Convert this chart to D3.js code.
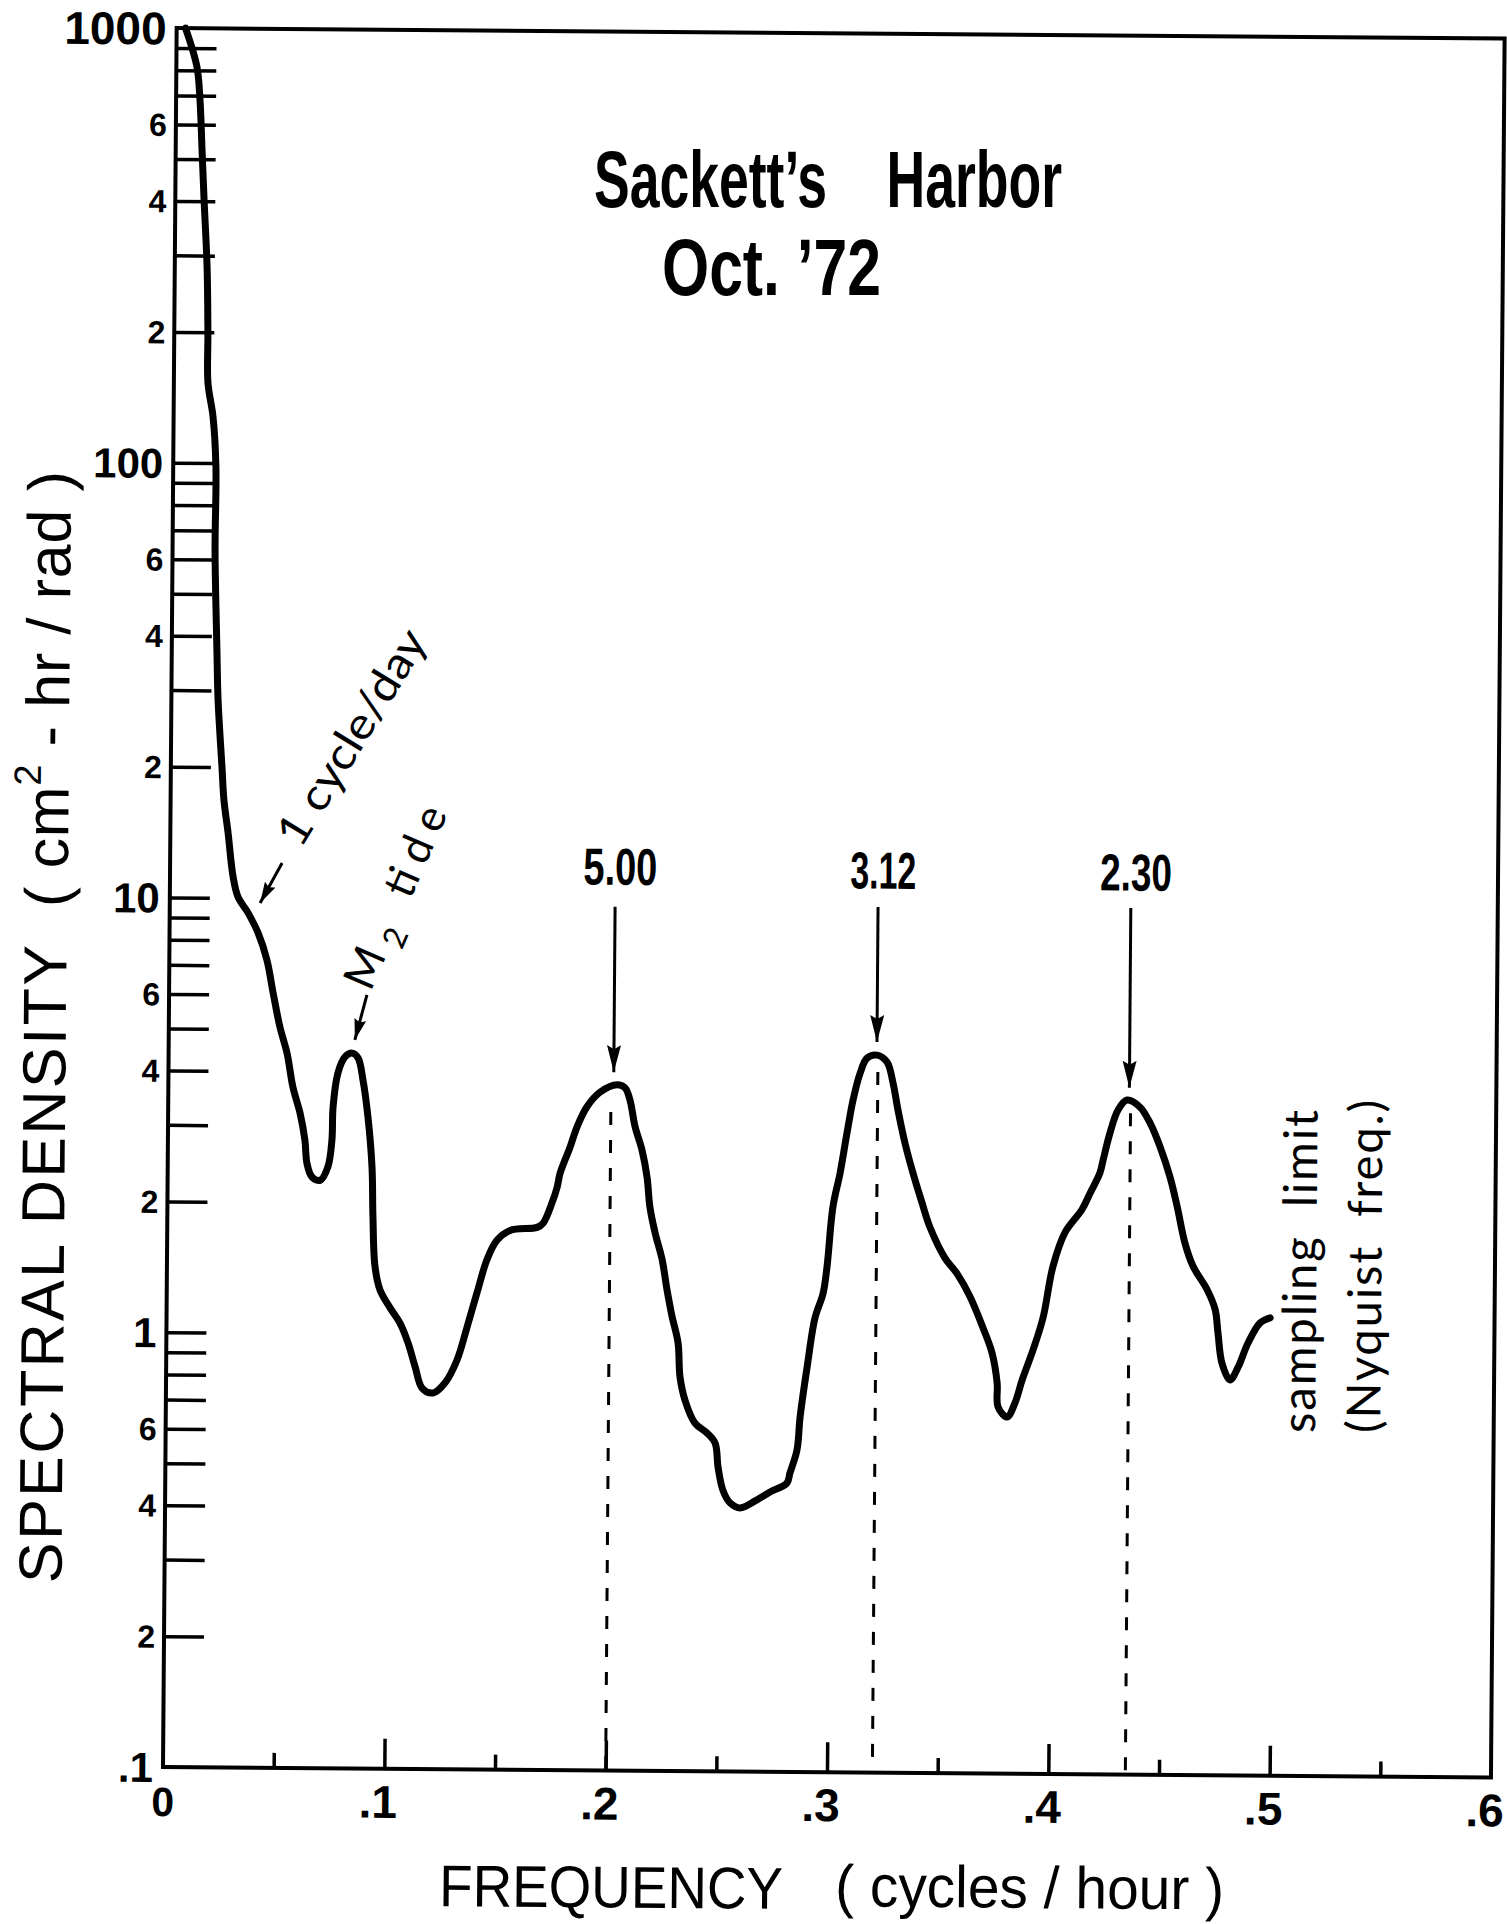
<!DOCTYPE html>
<html>
<head>
<meta charset="utf-8">
<script src="https://cdn.jsdelivr.net/npm/d3@7"></script>
<style>
html,body{margin:0;padding:0;background:#fff;}
svg{display:block;background:#fff;}
text{white-space:pre;}
</style>
</head>
<body>
<svg id="chart" width="1507" height="1924"></svg>
<script>
// ---------------- data ----------------
const freq = [0.004,0.0093,0.0108,0.0119,0.0130,0.0146,0.0152,0.0154,0.0178,0.0193,
0.0192,0.0204,0.0211,0.0231,0.0241,0.0261,0.0285,0.0308,0.0354,0.0400,
0.0441,0.0470,0.0502,0.0535,0.0563,0.0596,0.0619,0.0629,0.0652,0.0689,
0.0724,0.0741,0.0745,0.0766,0.0797,0.0829,0.0856,0.0879,0.0903,0.0923,
0.0929,0.0940,0.0964,0.1009,0.1055,0.1092,0.1125,0.1157,0.1207,0.1260,
0.1314,0.1358,0.1402,0.1446,0.1490,0.1549,0.1671,0.1698,0.1738,0.1760,
0.1773,0.1817,0.1848,0.1892,0.1950,0.2027,0.2063,0.2086,0.2110,0.2142,
0.2166,0.2180,0.2204,0.2237,0.2260,0.2284,0.2312,0.2322,0.2345,0.2391,
0.2446,0.2483,0.2497,0.2520,0.2552,0.2598,0.2674,0.2733,0.2809,0.2822,
0.2853,0.2866,0.2896,0.2930,0.2965,0.2982,0.3007,0.3038,0.3068,0.3094,
0.3125,0.3156,0.3201,0.3246,0.3274,0.3297,0.3330,0.3367,0.3409,0.3446,
0.3515,0.3570,0.3629,0.3689,0.3731,0.3755,0.3760,0.3801,0.3836,0.3868,
0.3916,0.3960,0.4003,0.4056,0.4132,0.4168,0.4212,0.4226,0.4256,0.4292,
0.4332,0.4391,0.4436,0.4483,0.4529,0.4562,0.4599,0.4636,0.4700,0.4737,
0.4751,0.4770,0.4807,0.4843,0.4887,0.4941,0.4986];

const density = [1000,815,684,525,403,282,199,153,128,98,
63,37.2,28.5,20.0,16.8,14.1,11.2,10.06,9.25,8.32,
7.21,6.06,5.06,4.41,3.68,3.21,2.78,2.46,2.29,2.25,
2.42,2.79,3.32,3.98,4.33,4.42,4.31,3.84,3.15,2.42,
1.86,1.43,1.26,1.15,1.06,0.955,0.841,0.752,0.733,0.773,
0.874,1.04,1.25,1.49,1.65,1.74,1.77,1.81,2.02,2.19,
2.36,2.71,3.02,3.36,3.63,3.78,3.72,3.49,3.03,2.68,
2.32,1.98,1.73,1.50,1.28,1.11,0.965,0.806,0.714,0.632,
0.600,0.569,0.501,0.443,0.415,0.404,0.422,0.440,0.462,0.487,
0.550,0.656,0.855,1.11,1.26,1.45,2.00,2.39,2.96,3.52,
4.06,4.40,4.47,4.31,3.86,3.35,2.81,2.40,2.05,1.80,
1.53,1.41,1.25,1.06,0.927,0.791,0.697,0.661,0.712,0.805,
0.944,1.12,1.47,1.76,1.99,2.17,2.42,2.59,2.99,3.38,
3.56,3.43,3.16,2.78,2.37,2.03,1.67,1.48,1.31,1.18,
1.04,0.887,0.812,0.869,0.988,1.10,1.13];

const xTickMajor = [0.1,0.2,0.3,0.4,0.5];
const xTickMinor = [0.05,0.15,0.25,0.35,0.45,0.55];
const xLabelValues = [0,0.1,0.2,0.3,0.4,0.5,0.6];
const xLabelText = ["0",".1",".2",".3",".4",".5",".6"];

const yTickValues = [0.2,0.3,0.4,0.5,0.6,0.7,0.8,0.9,
  1,2,3,4,5,6,7,8,9,
  10,20,30,40,50,60,70,80,90,
  100,200,300,400,500,600,700,800,900];
const yLabelValues = [1000,600,400,200,100,60,40,20,10,6,4,2,1,0.6,0.4,0.2,0.1];
const yLabelText = ["1000","6","4","2","100","6","4","2","10","6","4","2","1","6","4","2",".1"];

// periods (hours) of the marked peaks
const peakLabels = ["5.00","3.12","2.30"];
const peakFreq = [0.2,0.3205,0.4348];      // dashed lines
const arrowFreq = [0.2012,0.3200,0.4342];  // arrows
const arrowTipValue = [4.04,4.79,3.80];
const arrowTailValue = [9.7,9.8,9.85];
const dashTopValue = [3.27,4.09,3.32];
const peakLabelValue = [10.9,10.8,10.8];

// ---------------- layout ----------------
const svg = d3.select("#chart");
const plotLeft = 163, plotRight = 1491, plotTop = 28, plotBottom = 1767;
const x = d3.scaleLinear().domain([0,0.6]).range([plotLeft,plotRight]);
const y = d3.scaleLog().domain([0.1,1000]).range([plotBottom,plotTop]);

const defs = svg.append("defs");
defs.append("marker").attr("id","headBig")
  .attr("viewBox","-27 -7.5 27 15").attr("refX",0).attr("refY",0)
  .attr("markerWidth",27).attr("markerHeight",15)
  .attr("markerUnits","userSpaceOnUse").attr("orient","auto")
  .append("path").attr("d","M0,0L-27,-7L-23,0L-27,7Z").attr("fill","#000");
defs.append("marker").attr("id","headSmall")
  .attr("viewBox","-21 -6.5 21 13").attr("refX",0).attr("refY",0)
  .attr("markerWidth",21).attr("markerHeight",13)
  .attr("markerUnits","userSpaceOnUse").attr("orient","auto")
  .append("path").attr("d","M0,0L-21,-6L-18,0L-21,6Z").attr("fill","#000");

// the scanned figure is slightly rotated
const g = svg.append("g").attr("transform",`rotate(0.45,${plotLeft},${plotBottom})`);

// frame
g.append("rect")
  .attr("x",plotLeft).attr("y",plotTop)
  .attr("width",plotRight-plotLeft).attr("height",plotBottom-plotTop)
  .attr("fill","none").attr("stroke","#000").attr("stroke-width",4);

// y ticks (inside)
g.append("g").attr("transform",`translate(${plotLeft},0)`)
  .call(d3.axisRight(y).tickValues(yTickValues).tickSize(40).tickFormat(""))
  .call(s=>s.select(".domain").remove())
  .selectAll("line").attr("stroke","#000").attr("stroke-width",3.5);

// x ticks (inside)
g.append("g").attr("transform",`translate(0,${plotBottom})`)
  .call(d3.axisTop(x).tickValues(xTickMajor).tickSize(30).tickFormat(""))
  .call(s=>s.select(".domain").remove())
  .selectAll("line").attr("stroke","#000").attr("stroke-width",3.5);
g.append("g").attr("transform",`translate(0,${plotBottom})`)
  .call(d3.axisTop(x).tickValues(xTickMinor).tickSize(15).tickFormat(""))
  .call(s=>s.select(".domain").remove())
  .selectAll("line").attr("stroke","#000").attr("stroke-width",3.5);

const boldFont = "'Liberation Sans', Arial, Helvetica, sans-serif";
const isMajor = t => !["2","4","6"].includes(t);

// y labels
g.selectAll(".ylab").data(yLabelValues).join("text")
  .attr("class","ylab")
  .attr("x",(d,i)=> plotLeft - (isMajor(yLabelText[i]) ? 10 : 9))
  .attr("y",d=>y(d))
  .attr("dy","0.36em")
  .attr("text-anchor","end")
  .attr("font-family",boldFont).attr("font-weight","bold")
  .attr("font-size",(d,i)=> yLabelText[i].length>=4 ? 46 : (isMajor(yLabelText[i]) ? 42 : 32))
  .text((d,i)=>yLabelText[i]);

// x labels
g.selectAll(".xlab").data(xLabelValues).join("text")
  .attr("class","xlab")
  .attr("x",(d,i)=> i===0 ? x(d) : x(d)+13)
  .attr("y",plotBottom+49)
  .attr("text-anchor",(d,i)=> i===0 ? "middle" : "end")
  .attr("font-family",boldFont).attr("font-weight","bold")
  .attr("font-size",(d,i)=> i===0 ? 41 : 46)
  .text((d,i)=>xLabelText[i]);

// axis titles
const regFont = "'Liberation Sans', Arial, Helvetica, sans-serif";
g.append("text")
  .attr("transform","translate(60,1584) rotate(-90)")
  .attr("font-family",regFont).attr("font-size",61)
  .attr("textLength",638).attr("lengthAdjust","spacing")
  .text("SPECTRAL DENSITY");
const yt2 = g.append("text")
  .attr("transform","translate(61,908) rotate(-90)")
  .attr("font-family",regFont).attr("font-size",61)
  .attr("textLength",436).attr("lengthAdjust","spacing");
yt2.append("tspan").text("( cm");
yt2.append("tspan").attr("dy",-28).attr("font-size",38).text("2");
yt2.append("tspan").attr("dy",28).text(" - hr / rad )");

g.append("text")
  .attr("x",440).attr("y",1904)
  .attr("font-family",regFont).attr("font-size",59)
  .attr("textLength",344).attr("lengthAdjust","spacingAndGlyphs")
  .text("FREQUENCY");
g.append("text")
  .attr("x",836).attr("y",1901)
  .attr("font-family",regFont).attr("font-size",59)
  .attr("textLength",389).attr("lengthAdjust","spacingAndGlyphs")
  .text("( cycles / hour )");

// dashed lines under the marked peaks
g.selectAll(".dash").data(peakFreq).join("line")
  .attr("class","dash")
  .attr("x1",d=>x(d)).attr("x2",d=>x(d))
  .attr("y1",(d,i)=>y(dashTopValue[i])).attr("y2",y(0.1))
  .attr("stroke","#000").attr("stroke-width",3)
  .attr("stroke-dasharray","13,15");

// spectrum curve
const line = d3.line()
  .x((d,i)=>x(freq[i]))
  .y((d,i)=>y(density[i]))
  .curve(d3.curveCatmullRom.alpha(0.5));
g.append("path")
  .datum(density)
  .attr("d",line)
  .attr("fill","none").attr("stroke","#000")
  .attr("stroke-width",7).attr("stroke-linejoin","round").attr("stroke-linecap","round");

// peak arrows and period labels
g.selectAll(".parrow").data(arrowFreq).join("line")
  .attr("class","parrow")
  .attr("x1",d=>x(d)).attr("x2",d=>x(d))
  .attr("y1",(d,i)=>y(arrowTailValue[i])).attr("y2",(d,i)=>y(arrowTipValue[i]))
  .attr("stroke","#000").attr("stroke-width",3)
  .attr("marker-end","url(#headBig)");

const condFont = "'Liberation Sans Narrow','Liberation Sans', Arial, sans-serif";
const peakLabelWidth = [74,66,72];
g.selectAll(".plab").data(peakLabels).join("text")
  .attr("class","plab")
  .attr("x",(d,i)=>x(arrowFreq[i]) + 5 - peakLabelWidth[i]/2)
  .attr("y",(d,i)=>y(peakLabelValue[i]))
  .attr("font-family",condFont).attr("font-weight","bold").attr("font-size",52)
  .attr("textLength",(d,i)=>peakLabelWidth[i]).attr("lengthAdjust","spacingAndGlyphs")
  .text(d=>d);

// annotations
const annFont = "Lato, 'Open Sans', 'DejaVu Sans', sans-serif";
// 1 cycle/day
g.append("line")
  .attr("x1",x(0.0506)).attr("y1",y(12.06))
  .attr("x2",x(0.0408)).attr("y2",y(9.75))
  .attr("stroke","#000").attr("stroke-width",3)
  .attr("marker-end","url(#headSmall)");
g.append("text")
  .attr("transform",`translate(${x(0.0813)},${y(23.5)}) rotate(-59)`)
  .attr("x",-122).attr("dy","0.35em")
  .attr("font-family",annFont).attr("font-size",44)
  .attr("textLength",245).attr("lengthAdjust","spacingAndGlyphs")
  .text("1 cycle/day");

// M2 tide
g.append("line")
  .attr("x1",x(0.0894)).attr("y1",y(6.02))
  .attr("x2",x(0.0841)).attr("y2",y(4.74))
  .attr("stroke","#000").attr("stroke-width",3)
  .attr("marker-end","url(#headSmall)");
const m2 = g.append("text")
  .attr("transform",`translate(${x(0.1017)},${y(10.1)}) rotate(-67)`)
  .attr("x",-97).attr("dy","0.35em")
  .attr("font-family",annFont).attr("font-size",44)
  .attr("textLength",195).attr("lengthAdjust","spacing");
m2.append("tspan").text("M");
m2.append("tspan").attr("dy",12).attr("font-size",32).text("2");
m2.append("tspan").attr("dy",-12).text(" tide");

// sampling limit
g.append("text")
  .attr("transform",`translate(${x(0.5193)},${y(0.615)}) rotate(-90)`)
  .attr("font-family",annFont).attr("font-size",47)
  .attr("textLength",323).attr("lengthAdjust","spacing")
  .text("sampling  limit");
g.append("text")
  .attr("transform",`translate(${x(0.5487)},${y(0.617)}) rotate(-90)`)
  .attr("font-family",annFont).attr("font-size",47)
  .attr("textLength",333).attr("lengthAdjust","spacing")
  .text("(Nyquist  freq.)");

// title (not rotated)
const titleFont = "'Liberation Sans Narrow','Liberation Sans', Arial, sans-serif";
svg.append("text").attr("x",594).attr("y",207)
  .attr("font-family",titleFont).attr("font-weight","bold").attr("font-size",79)
  .attr("textLength",468).attr("lengthAdjust","spacingAndGlyphs")
  .text("Sackett’s    Harbor");
svg.append("text").attr("x",662).attr("y",295)
  .attr("font-family",titleFont).attr("font-weight","bold").attr("font-size",79)
  .attr("textLength",219).attr("lengthAdjust","spacingAndGlyphs")
  .text("Oct. ’72");
</script>
</body>
</html>
